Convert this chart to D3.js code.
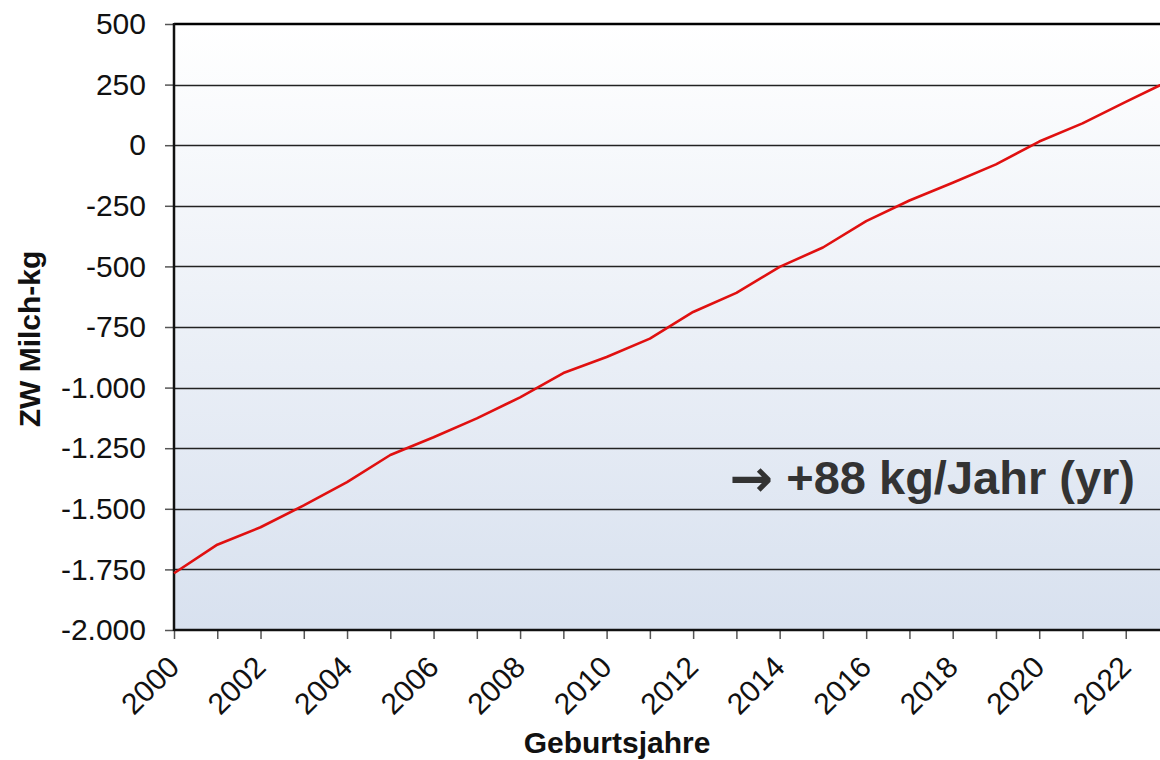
<!DOCTYPE html>
<html>
<head>
<meta charset="utf-8">
<script src="https://cdn.jsdelivr.net/npm/d3@7"></script>
<style>
  html, body { margin: 0; padding: 0; background: #fff; }
  svg { display: block; font-family: "Liberation Sans", Arial, sans-serif; }
  .tick-label { font-size: 30px; fill: #111; }
  .axis-title { font-size: 30px; font-weight: bold; fill: #111; }
  .note { font-size: 47px; font-weight: bold; fill: #333; }
  .arrow { font-family: "DejaVu Sans", sans-serif; font-size: 52px; }
</style>
</head>
<body>
<div id="chart"></div>
<script>
// birth years and breeding value (ZW) for milk in kg
const years = [2000, 2001, 2002, 2003, 2004, 2005, 2006, 2007, 2008, 2009, 2010, 2011,
               2012, 2013, 2014, 2015, 2016, 2017, 2018, 2019, 2020, 2021, 2022, 2023];
const milkKg = [-1766, -1648, -1576, -1486, -1390, -1278, -1205, -1127, -1040, -940, -874, -798,
                -688, -609, -502, -422, -313, -228, -155, -79, 15, 90, 179, 265];

const yTicks = [-2000, -1750, -1500, -1250, -1000, -750, -500, -250, 0, 250, 500];
const xTicks = [2000, 2002, 2004, 2006, 2008, 2010, 2012, 2014, 2016, 2018, 2020, 2022];

const yTitle = 'ZW Milch-kg';
const xTitle = 'Geburtsjahre';
const noteArrow = '\u2192';
const noteText = '+88 kg/Jahr (yr)';

const width = 1160;
const height = 760;
const plot = {left: 174, top: 24, right: 1169, bottom: 630};

const de = d3.formatLocale({decimal: ',', thousands: '.', grouping: [3], currency: ['', ' €'], minus: '-'});
const fmt = de.format(',d');

let svg = d3.select('#chart').append('svg')
  .attr('width', width)
  .attr('height', height)

let defs = svg.append('defs');
let grad = defs.append('linearGradient')
  .attr('id', 'bg')
  .attr('x1', 0).attr('y1', 0)
  .attr('x2', 0).attr('y2', 1)
grad.append('stop').attr('offset', '0%').attr('stop-color', '#ffffff')
grad.append('stop').attr('offset', '100%').attr('stop-color', '#d8e1ef')

let x = d3.scaleLinear()
  .domain([2000, 2023])
  .range([plot.left, plot.right])

let y = d3.scaleLinear()
  .domain([-2000, 500])
  .range([plot.bottom, plot.top])

svg.append('rect')
  .attr('x', plot.left)
  .attr('y', plot.top)
  .attr('width', plot.right - plot.left)
  .attr('height', plot.bottom - plot.top)
  .attr('fill', 'url(#bg)')

// horizontal grid lines
svg.append('g')
  .selectAll('line')
  .data(yTicks.filter(d => d !== -2000 && d !== 500))
  .enter().append('line')
    .attr('x1', plot.left)
    .attr('x2', plot.right)
    .attr('y1', d => Math.round(y(d)) + 0.5)
    .attr('y2', d => Math.round(y(d)) + 0.5)
    .attr('stroke', '#222')
    .attr('stroke-width', 1.4)

// y axis
let yAxis = d3.axisLeft(y).tickValues(yTicks).tickSize(9).tickPadding(19).tickFormat(fmt);
let gy = svg.append('g')
  .attr('transform', `translate(${plot.left}, 0)`)
  .call(yAxis)
gy.select('.domain').remove()
gy.selectAll('.tick line').attr('stroke', '#555').attr('stroke-width', 1.5)
gy.selectAll('.tick text')
  .classed('tick-label', true)
  .attr('font-size', null)
  .attr('font-family', null)
  .attr('fill', null)

// x axis
let xAxis = d3.axisBottom(x).ticks(23).tickSize(9).tickFormat('');
let gx = svg.append('g')
  .attr('transform', `translate(0, ${plot.bottom})`)
  .call(xAxis)
gx.select('.domain').remove()
gx.selectAll('.tick line').attr('stroke', '#555').attr('stroke-width', 1.5)

svg.append('g')
  .selectAll('text')
  .data(xTicks)
  .enter().append('text')
    .classed('tick-label', true)
    .attr('text-anchor', 'end')
    .attr('transform', d => `translate(${x(d) + 7}, 669) rotate(-45)`)
    .text(d => d)

// frame: top, left, bottom
svg.append('line')
  .attr('x1', plot.left).attr('x2', plot.right)
  .attr('y1', plot.top).attr('y2', plot.top)
  .attr('stroke', '#000').attr('stroke-width', 2.5)
svg.append('line')
  .attr('x1', plot.left).attr('x2', plot.right)
  .attr('y1', plot.bottom).attr('y2', plot.bottom)
  .attr('stroke', '#111').attr('stroke-width', 2.5)
svg.append('line')
  .attr('x1', plot.left).attr('x2', plot.left)
  .attr('y1', plot.top - 1).attr('y2', plot.bottom + 1)
  .attr('stroke', '#111').attr('stroke-width', 2.5)

// the trend line
let line = d3.line()
  .x((d, i) => x(years[i]))
  .y(d => y(d))

svg.append('path')
  .datum(milkKg)
  .attr('d', line)
  .attr('fill', 'none')
  .attr('stroke', '#e01010')
  .attr('stroke-width', 2.6)
  .attr('stroke-linejoin', 'round')

let noteEl = svg.append('text')
  .classed('note', true)
  .attr('x', 1135)
  .attr('y', 494)
  .attr('text-anchor', 'end')
noteEl.append('tspan').classed('arrow', true).attr('dy', 2).text(noteArrow)
noteEl.append('tspan').attr('dy', -2).text(' ' + noteText)

svg.append('text')
  .classed('axis-title', true)
  .attr('text-anchor', 'middle')
  .attr('transform', 'translate(40, 339) rotate(-90)')
  .text(yTitle)

svg.append('text')
  .classed('axis-title', true)
  .attr('text-anchor', 'middle')
  .attr('x', 617)
  .attr('y', 753)
  .text(xTitle)
</script>
</body>
</html>
